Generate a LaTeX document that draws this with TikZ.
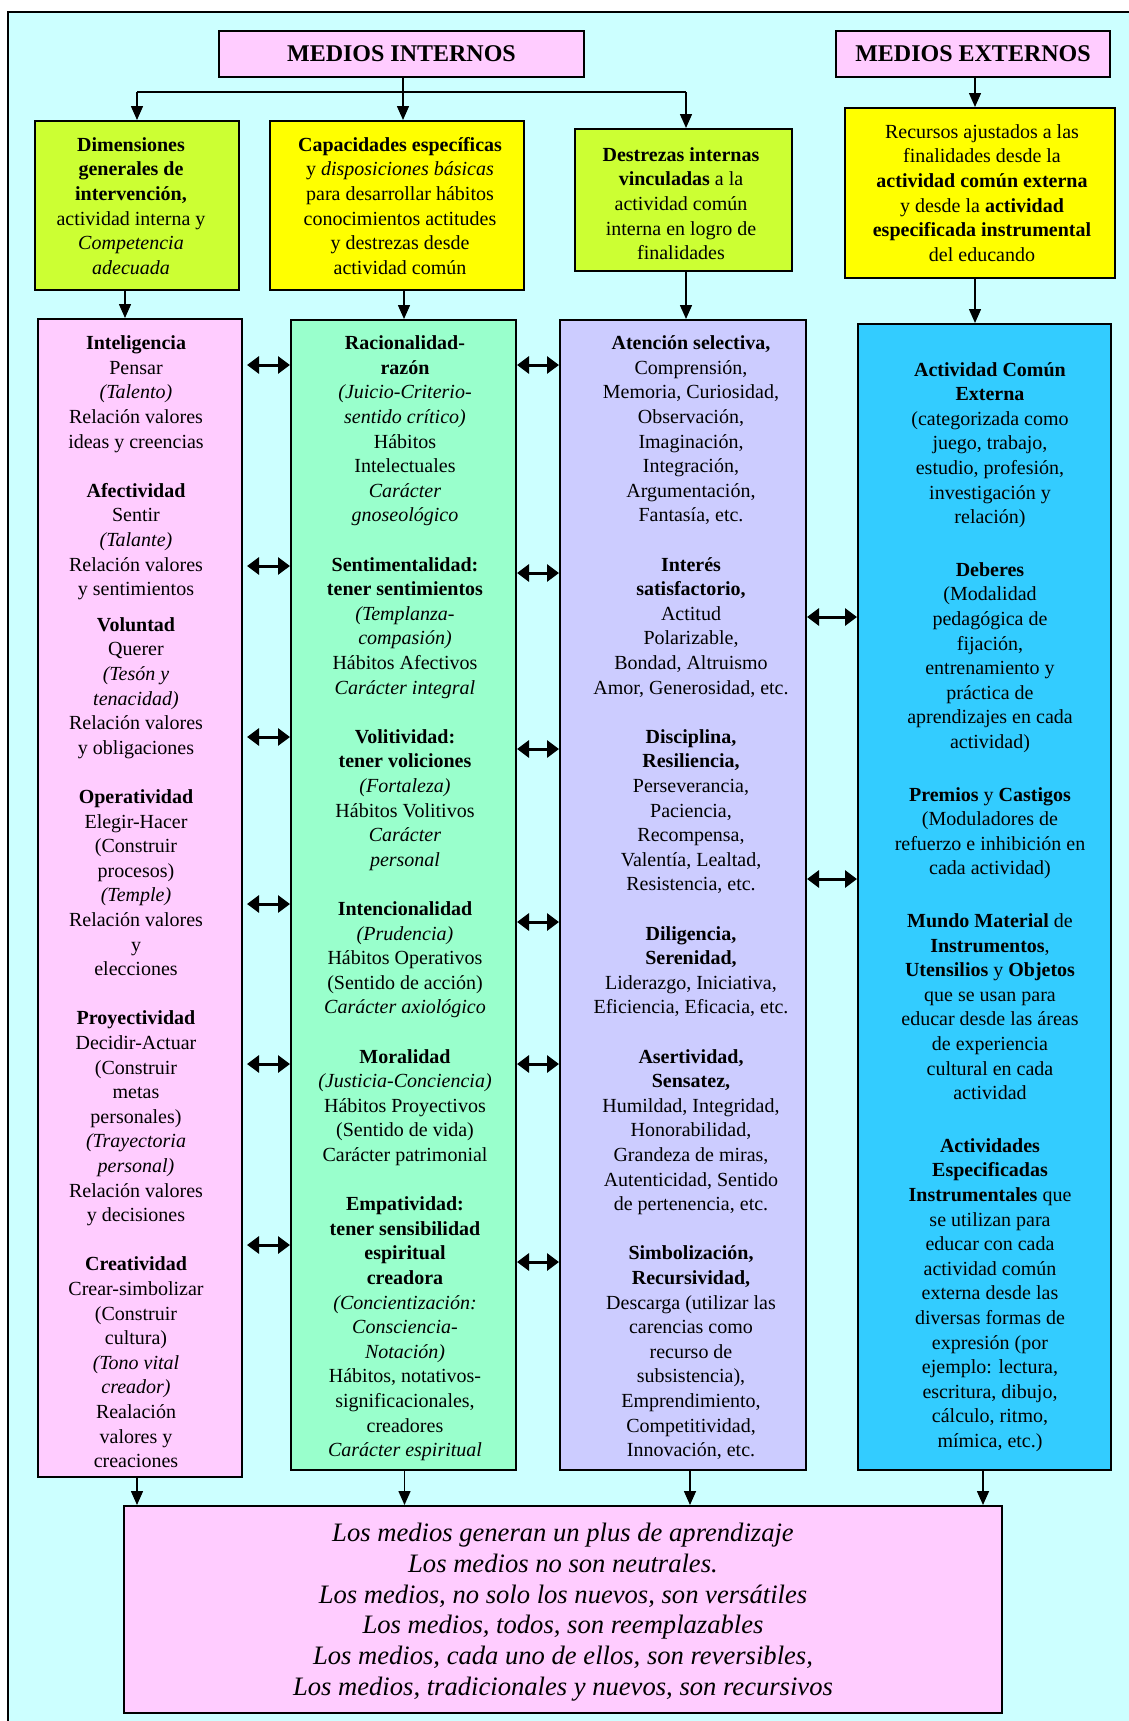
\documentclass[tikz,border=0pt]{standalone}
\usepackage{fontspec}
\setmainfont{Liberation Serif}
\usetikzlibrary{arrows.meta}
\definecolor{bgc}{HTML}{CCFFFF}
\definecolor{pinkc}{HTML}{FFCCFF}
\definecolor{limec}{HTML}{CCFF33}
\definecolor{yelc}{HTML}{FFFF00}
\definecolor{greenc}{HTML}{99FFCC}
\definecolor{purpc}{HTML}{CCCCFF}
\definecolor{bluec}{HTML}{33CCFF}
\tikzset{
  box/.style={draw=black, line width=2pt, inner sep=0pt},
  txt/.style={inner sep=0pt, align=center, anchor=north, font=\fontsize{20}{24.6}\selectfont},
  arr/.style={line width=1.5pt, -{Triangle[length=14pt,width=12pt]}},
  plain/.style={line width=1.5pt},
  darr/.style={line width=3pt, {Triangle[length=12pt,width=17pt]}-{Triangle[length=12pt,width=17pt]}}
}
\begin{document}
\begin{tikzpicture}[x=1pt,y=-1pt]
\useasboundingbox (0,0) rectangle (1129,1721);
\fill[bgc] (8,12) rectangle (1129,1721);
\draw[line width=2pt] (8,1721) -- (8,12) -- (1129,12);

% header boxes
\node[box, fill=pinkc, minimum width=365pt, minimum height=46pt, font=\fontsize{24}{28}\selectfont\bfseries] (mi) at (401.5,54) {MEDIOS INTERNOS};
\node[box, fill=pinkc, minimum width=274pt, minimum height=46pt, font=\fontsize{24}{28}\selectfont\bfseries] (me) at (973,54) {MEDIOS EXTERNOS};

% second row boxes
\node[box, fill=limec, minimum width=204pt, minimum height=169pt] (b1) at (137,205.5) {};
\node[box, fill=yelc, minimum width=254pt, minimum height=169pt] (b2) at (397,205.5) {};
\node[box, fill=limec, minimum width=217pt, minimum height=142pt] (b3) at (683.5,200) {};
\node[box, fill=yelc, minimum width=270pt, minimum height=170pt] (b4) at (980,193) {};

\node[txt] (t1) at (131,133.8) {\strut\textbf{Dimensiones}\\\textbf{generales de}\\\textbf{intervención,}\\actividad interna y\\\textit{Competencia}\\\textit{adecuada}};
\node[txt] (t2) at (400,133.8) {\strut\textbf{Capacidades específicas}\\y \textit{disposiciones básicas}\\para desarrollar hábitos\\conocimientos actitudes\\y destrezas desde\\actividad común};
\node[txt] (t3) at (681,143.8) {\strut\textbf{Destrezas internas}\\\textbf{vinculadas} a la\\actividad común\\interna en logro de\\finalidades};
\node[txt] (t4) at (982,120.8) {\strut Recursos ajustados a las\\finalidades desde la\\\textbf{actividad común externa}\\y desde la \textbf{actividad}\\\textbf{especificada instrumental}\\del educando};

% columns
\node[box, fill=pinkc, minimum width=204pt, minimum height=1158pt] (c1) at (140,898) {};
\node[box, fill=greenc, minimum width=225pt, minimum height=1150pt] (c2) at (403.5,895) {};
\node[box, fill=purpc, minimum width=246pt, minimum height=1150pt] (c3) at (683,895) {};
\node[box, fill=bluec, minimum width=253pt, minimum height=1146pt] (c4) at (984.5,897) {};

\node[txt] (k1) at (136,332.2) {\strut\textbf{Inteligencia}\\Pensar\\\textit{(Talento)}\\Relación valores\\ideas y creencias\\[24.6pt]
\textbf{Afectividad}\\Sentir\\\textit{(Talante)}\\Relación valores\\y sentimientos\\[11pt]
\textbf{Voluntad}\\Querer\\\textit{(Tesón y}\\\textit{tenacidad)}\\Relación valores\\y obligaciones\\[24.6pt]
\textbf{Operatividad}\\Elegir-Hacer\\(Construir\\procesos)\\\textit{(Temple)}\\Relación valores\\y\\elecciones\\[24.6pt]
\textbf{Proyectividad}\\Decidir-Actuar\\(Construir\\metas\\personales)\\\textit{(Trayectoria}\\\textit{personal)}\\Relación valores\\y decisiones\\[24.6pt]
\textbf{Creatividad}\\Crear-simbolizar\\(Construir\\cultura)\\\textit{(Tono vital}\\\textit{creador)}\\Realación\\valores y\\creaciones};

\node[txt] (k2) at (405,332.2) {\strut\textbf{Racionalidad-}\\\textbf{razón}\\\textit{(Juicio-Criterio-}\\\textit{sentido crítico)}\\Hábitos\\Intelectuales\\\textit{Carácter}\\\textit{gnoseológico}\\[24.6pt]
\textbf{Sentimentalidad:}\\\textbf{tener sentimientos}\\\textit{(Templanza-}\\\textit{compasión)}\\Hábitos Afectivos\\\textit{Carácter integral}\\[24.6pt]
\textbf{Volitividad:}\\\textbf{tener voliciones}\\\textit{(Fortaleza)}\\Hábitos Volitivos\\\textit{Carácter}\\\textit{personal}\\[24.6pt]
\textbf{Intencionalidad}\\\textit{(Prudencia)}\\Hábitos Operativos\\(Sentido de acción)\\\textit{Carácter axiológico}\\[24.6pt]
\textbf{Moralidad}\\\textit{(Justicia-Conciencia)}\\Hábitos Proyectivos\\(Sentido de vida)\\Carácter patrimonial\\[24.6pt]
\textbf{Empatividad:}\\\textbf{tener sensibilidad}\\\textbf{espiritual}\\\textbf{creadora}\\\textit{(Concientización:}\\\textit{Consciencia-}\\\textit{Notación)}\\Hábitos, notativos-\\significacionales,\\creadores\\\textit{Carácter espiritual}};

\node[txt] (k3) at (691,332.2) {\strut\textbf{Atención selectiva,}\\Comprensión,\\Memoria, Curiosidad,\\Observación,\\Imaginación,\\Integración,\\Argumentación,\\Fantasía, etc.\\[24.6pt]
\textbf{Interés}\\\textbf{satisfactorio,}\\Actitud\\Polarizable,\\Bondad, Altruismo\\Amor, Generosidad, etc.\\[24.6pt]
\textbf{Disciplina,}\\\textbf{Resiliencia,}\\Perseverancia,\\Paciencia,\\Recompensa,\\Valentía, Lealtad,\\Resistencia, etc.\\[24.6pt]
\textbf{Diligencia,}\\\textbf{Serenidad,}\\Liderazgo, Iniciativa,\\Eficiencia, Eficacia, etc.\\[24.6pt]
\textbf{Asertividad,}\\\textbf{Sensatez,}\\Humildad, Integridad,\\Honorabilidad,\\Grandeza de miras,\\Autenticidad, Sentido\\de pertenencia, etc.\\[24.6pt]
\textbf{Simbolización,}\\\textbf{Recursividad,}\\Descarga (utilizar las\\carencias como\\recurso de\\subsistencia),\\Emprendimiento,\\Competitividad,\\Innovación, etc.};

\node[txt] (k4) at (990,358.6) {\strut\textbf{Actividad Común}\\\textbf{Externa}\\(categorizada como\\juego, trabajo,\\estudio, profesión,\\investigación y\\relación)\\[28pt]
\textbf{Deberes}\\(Modalidad\\pedagógica de\\fijación,\\entrenamiento y\\práctica de\\aprendizajes en cada\\actividad)\\[28pt]
\textbf{Premios} y \textbf{Castigos}\\(Moduladores de\\refuerzo e inhibición en\\cada actividad)\\[28pt]
\textbf{Mundo Material} de\\\textbf{Instrumentos},\\\textbf{Utensilios} y \textbf{Objetos}\\que se usan para\\educar desde las áreas\\de experiencia\\cultural en cada\\actividad\\[28pt]
\textbf{Actividades}\\\textbf{Especificadas}\\\textbf{Instrumentales} que\\se utilizan para\\educar con cada\\actividad común\\externa desde las\\diversas formas de\\expresión (por\\ejemplo: lectura,\\escritura, dibujo,\\cálculo, ritmo,\\mímica, etc.)};

% bottom box
\node[box, fill=pinkc, minimum width=878pt, minimum height=207pt] (bot) at (563,1609.5) {};
\node[txt, font=\fontsize{26.6}{30.7}\selectfont\itshape] (kb) at (563,1520) {\strut Los medios generan un plus de aprendizaje\\Los medios no son neutrales.\\Los medios, no solo los nuevos, son versátiles\\Los medios, todos, son reemplazables\\Los medios, cada uno de ellos, son reversibles,\\Los medios, tradicionales y nuevos, son recursivos};

% top connectors
\coordinate (jl) at (137,92);
\coordinate (jc) at (403,92);
\coordinate (jr) at (686,92);
\draw[plain] (mi.south -| jc) -- (jc);
\draw[plain] (jl) -- (jr);
\draw[arr] (jl) -- (jl |- b1.north);
\draw[arr] (jc) -- (jc |- b2.north);
\draw[arr] (jr) -- (jr |- b3.north);
\draw[arr] ([xshift=2pt]me.south) -- ([xshift=2pt]me.south |- b4.north);

\draw[arr] ([xshift=-12pt]b1.south) -- ([xshift=-12pt]b1.south |- c1.north);
\draw[arr] ([xshift=7pt]b2.south) -- ([xshift=7pt]b2.south |- c2.north);
\draw[arr] ([xshift=2.5pt]b3.south) -- ([xshift=2.5pt]b3.south |- c3.north);
\draw[arr] ([xshift=-5pt]b4.south) -- ([xshift=-5pt]b4.south |- c4.north);

% bottom connectors
\draw[arr] ([xshift=-3pt]c1.south) -- ([xshift=-3pt]c1.south |- bot.north);
\draw[arr] ([xshift=1pt]c2.south) -- ([xshift=1pt]c2.south |- bot.north);
\draw[arr] ([xshift=7pt]c3.south) -- ([xshift=7pt]c3.south |- bot.north);
\draw[arr] ([xshift=-1.5pt]c4.south) -- ([xshift=-1.5pt]c4.south |- bot.north);

% double arrows
\foreach \yy in {365,566,737,904,1064,1245}
  \draw[darr, shorten <=4pt] (c1.east |- 0,\yy) -- (c2.west |- 0,\yy);
\foreach \yy in {365,573,749,922,1064,1262}
  \draw[darr] (c2.east |- 0,\yy) -- (c3.west |- 0,\yy);
\foreach \yy in {617,879}
  \draw[darr] (c3.east |- 0,\yy) -- (c4.west |- 0,\yy);
\end{tikzpicture}
\end{document}
